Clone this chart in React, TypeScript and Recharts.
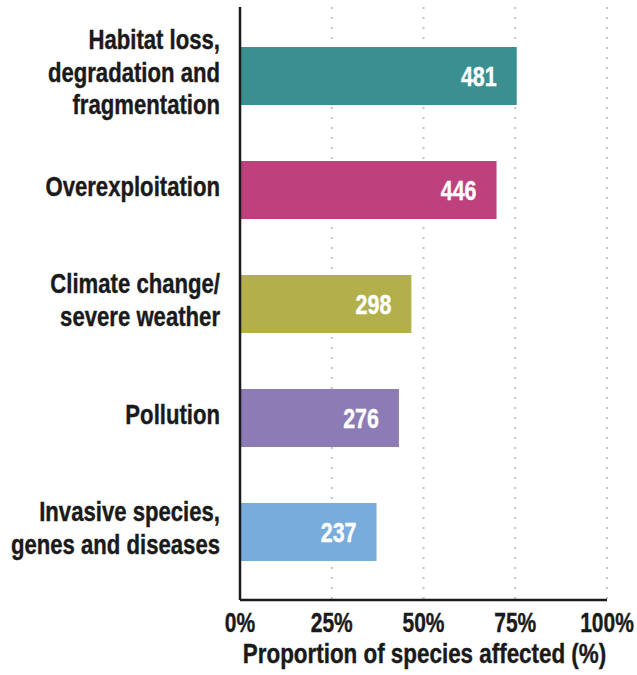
import { BarChart, Bar, XAxis, YAxis, CartesianGrid, Cell, LabelList, Label } from 'recharts';

const categories = [
  'Habitat loss,\ndegradation and\nfragmentation',
  'Overexploitation',
  'Climate change/\nsevere weather',
  'Pollution',
  'Invasive species,\ngenes and diseases',
];
const proportions = [75.4, 69.9, 46.7, 43.3, 37.2];
const speciesCounts = [481, 446, 298, 276, 237];
const barColors = ['#3a8f91', '#bd417d', '#b3b04b', '#8c7bb5', '#78acdb'];
const xTicks = [0, 25, 50, 75, 100];

const data = categories.map((name, i) => ({
  name,
  value: proportions[i],
  count: speciesCounts[i],
}));

const textColor = '#1a1a1a';
const fontFamily = "'Liberation Sans', Arial, sans-serif";

// no condensed font installed, so squeeze Liberation Sans horizontally
function NarrowText({ x, y, anchor = 'middle', fill = textColor, size = 27, sx = 0.82, children }: any) {
  return (
    <text
      transform={`translate(${x},${y}) scale(${sx},1)`}
      x={0}
      y={0}
      textAnchor={anchor}
      fill={fill}
      stroke={fill}
      strokeWidth={0.4}
      fontSize={size}
      fontWeight="bold"
      fontFamily={fontFamily}
    >
      {children}
    </text>
  );
}

function CategoryTick({ x, y, payload }: any) {
  const lines = String(payload.value).split('\n');
  const lineHeight = 32.5;
  const first = y + 5.7 - ((lines.length - 1) * lineHeight) / 2;
  return (
    <g>
      {lines.map((line, i) => (
        <NarrowText key={i} x={x} y={first + i * lineHeight} anchor="end">
          {line}
        </NarrowText>
      ))}
    </g>
  );
}

function PercentTick({ x, y, payload }: any) {
  return (
    <NarrowText x={x} y={y + 31.7} sx={0.75} size={28}>
      {`${payload.value}%`}
    </NarrowText>
  );
}

function CountLabel({ x, y, width, height, value }: any) {
  return (
    <NarrowText x={x + width - 20} y={y + height / 2 + 9.5} anchor="end" fill="#ffffff" sx={0.78} size={27.5}>
      {value}
    </NarrowText>
  );
}

function AxisTitle({ viewBox }: any) {
  const { x, width } = viewBox;
  return (
    <NarrowText x={x + width / 2 + 1} y={663} sx={0.83}>
      Proportion of species affected (%)
    </NarrowText>
  );
}

export default function App() {
  return (
    <div style={{ position: 'absolute', left: 0, top: 0, width: 637, height: 675, background: '#fff' }}>
      <BarChart
        width={637}
        height={675}
        data={data}
        layout="vertical"
        margin={{ top: 7, right: 30, left: 0, bottom: 0 }}
      >
        <CartesianGrid
          horizontal={false}
          stroke="#c4c4c4"
          strokeWidth={2}
          strokeDasharray="2 8"
        />
        <XAxis
          type="number"
          domain={[0, 100]}
          ticks={xTicks}
          height={75}
          tickLine={false}
          tickSize={0}
          tickMargin={0}
          axisLine={{ stroke: textColor, strokeWidth: 2.5 }}
          tick={<PercentTick />}
        >
          <Label content={<AxisTitle />} />
        </XAxis>
        <YAxis
          type="category"
          dataKey="name"
          width={240}
          tickLine={false}
          tickSize={0}
          tickMargin={20}
          padding={{ top: 12, bottom: 11 }}
          axisLine={{ stroke: textColor, strokeWidth: 2.5 }}
          tick={<CategoryTick />}
          interval={0}
        />
        <Bar dataKey="value" barSize={58} isAnimationActive={false}>
          {data.map((entry, i) => (
            <Cell key={`cell-${i}`} fill={barColors[i]} />
          ))}
          <LabelList dataKey="count" content={<CountLabel />} />
        </Bar>
      </BarChart>
    </div>
  );
}
